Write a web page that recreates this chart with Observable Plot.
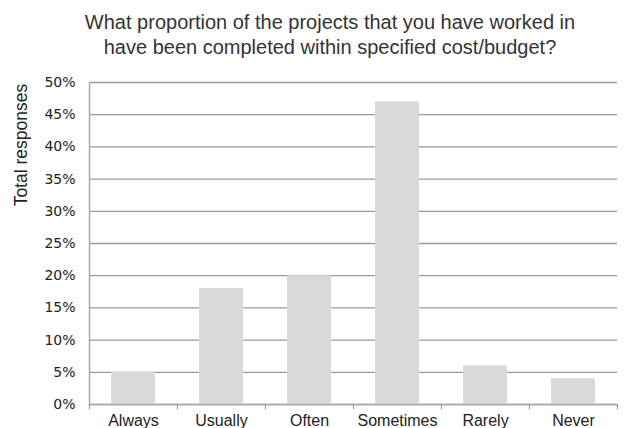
<!DOCTYPE html>
<html>
<head>
<meta charset="utf-8">
<script src="https://cdn.jsdelivr.net/npm/d3@7"></script>
<script src="https://cdn.jsdelivr.net/npm/@observablehq/plot@0.6"></script>
<style>
  body { margin: 0; background: #fff; }
  #wrap { position: relative; width: 624px; height: 428px; overflow: hidden; }
  #title { position: absolute; left: 30px; top: 10px; width: 600px;
    text-align: center; font-family: "Liberation Sans", Arial, sans-serif; font-size: 20px; line-height: 25px; color: #333; white-space: nowrap; }
  #ylab { position: absolute; left: 21px; top: 145px; transform: translate(-50%, -50%) rotate(-90deg);
    font-family: "Liberation Sans", Arial, sans-serif; font-size: 17.5px; color: #222; white-space: nowrap; }
  #chart svg g[aria-label="y-axis tick label"] text { font-family: "DejaVu Sans", Verdana, sans-serif; font-size: 14px; fill: #222; }
  #chart svg g[aria-label="x-axis tick label"] text { font-family: "Liberation Sans", Arial, sans-serif; font-size: 16px; fill: #222; }
</style>
</head>
<body>
<div id="wrap">
  <div id="chart"></div>
  <div id="title">What proportion of the projects that you have worked in<br>have been completed within specified cost/budget?</div>
  <div id="ylab">Total responses</div>
</div>
<script>
const categories = ["Always", "Usually", "Often", "Sometimes", "Rarely", "Never"];
const values = [0.05, 0.18, 0.20, 0.47, 0.06, 0.04];
const yTicks = [0, 0.05, 0.10, 0.15, 0.20, 0.25, 0.30, 0.35, 0.40, 0.45, 0.50];

const data = categories.map((c, i) => ({category: c, value: values[i]}));

const chart = Plot.plot({
  width: 624,
  height: 428,
  marginTop: 82,
  marginBottom: 24,
  marginLeft: 89,
  marginRight: 7,
  x: {domain: categories, paddingInner: 0.5, paddingOuter: 0.25, label: null},
  y: {domain: [0, 0.5], label: null},
  marks: [
    Plot.gridY(yTicks, {stroke: "#9a9a9a", strokeOpacity: 1, strokeWidth: 1.3}),
    Plot.barY(data, {x: "category", y: "value", fill: "#d9d9d9"}),
    Plot.ruleY([0], {stroke: "#aaa", strokeWidth: 1.5}),
    Plot.frame({anchor: "left", stroke: "#aaa", strokeWidth: 1.5}),
    Plot.ruleX(categories, {x: d => d, dx: -44, y1: 0, y2: -0.008, stroke: "#999", strokeWidth: 1.2}),
    Plot.ruleX(categories.slice(-1), {x: d => d, dx: 44, y1: 0, y2: -0.008, stroke: "#999", strokeWidth: 1.2}),
    Plot.axisY(yTicks, {tickFormat: d3.format(".0%"), tickSize: 0, tickPadding: 14}),
    Plot.axisX({tickSize: 0, tickPadding: 10})
  ]
});
document.getElementById("chart").appendChild(chart);
</script>
</body>
</html>
